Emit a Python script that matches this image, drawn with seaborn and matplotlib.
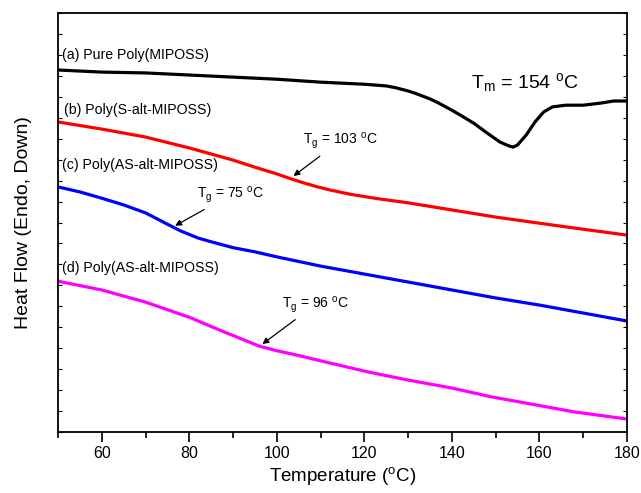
import numpy as np
import pandas as pd
import matplotlib
matplotlib.use('Agg')
import matplotlib.pyplot as plt
from matplotlib.ticker import MultipleLocator
import seaborn as sns

# curve data (heat flow in arbitrary units)
tempA = [50, 60, 70, 80, 90, 100, 110, 120, 125, 127, 130, 132, 135, 137, 140, 142, 145, 148, 151, 153, 154, 155, 157, 159, 161, 163, 166, 170, 174, 177, 180]
flowA = [8.64, 8.59, 8.57, 8.52, 8.47, 8.42, 8.35, 8.30, 8.26, 8.22, 8.14, 8.07, 7.95, 7.85, 7.68, 7.56, 7.37, 7.14, 6.92, 6.83, 6.80, 6.85, 7.09, 7.40, 7.64, 7.76, 7.80, 7.80, 7.85, 7.90, 7.90]

tempB = [50, 60, 70, 80, 90, 95, 100, 103, 106, 109, 112, 117, 123, 130, 140, 150, 163, 170, 180]
flowB = [7.40, 7.23, 7.04, 6.78, 6.49, 6.32, 6.16, 6.05, 5.95, 5.86, 5.78, 5.67, 5.57, 5.47, 5.30, 5.13, 4.94, 4.84, 4.70]

tempC = [50, 55, 60, 65, 70, 75, 78, 82, 85, 90, 95, 100, 110, 120, 130, 140, 150, 160, 170, 180]
flowC = [5.85, 5.73, 5.58, 5.42, 5.23, 4.96, 4.80, 4.63, 4.54, 4.40, 4.30, 4.18, 3.96, 3.77, 3.58, 3.39, 3.20, 3.03, 2.84, 2.65]

tempD = [50, 60, 70, 80, 87, 96, 100, 104, 112, 121, 130, 140, 149, 158, 168, 180]
flowD = [3.60, 3.39, 3.10, 2.74, 2.43, 2.05, 1.94, 1.85, 1.65, 1.43, 1.24, 1.05, 0.84, 0.67, 0.48, 0.31]

sampleNames = ['(a) Pure Poly(MIPOSS)', '(b) Poly(S-alt-MIPOSS)',
               '(c) Poly(AS-alt-MIPOSS)', '(d) Poly(AS-alt-MIPOSS) ']
lineColors = ['black', '#ff0000', '#0000ff', '#ff00ff']
xTicks = [60, 80, 100, 120, 140, 160, 180]

frames = []
for name, t, f in zip(sampleNames, [tempA, tempB, tempC, tempD], [flowA, flowB, flowC, flowD]):
    frames.append(pd.DataFrame({'Temperature': t, 'HeatFlow': f, 'Sample': name}))
df = pd.concat(frames, ignore_index=True)

sns.set_style('ticks', {'axes.edgecolor': 'black', 'text.color': 'black',
                        'axes.labelcolor': 'black', 'xtick.color': 'black',
                        'ytick.color': 'black'})
plt.rcParams['font.family'] = ['Liberation Sans', 'DejaVu Sans']
plt.rcParams['mathtext.fontset'] = 'custom'
plt.rcParams['mathtext.rm'] = 'Liberation Sans'
plt.rcParams['mathtext.it'] = 'Liberation Sans:italic'

fig = plt.figure(figsize=(6.41, 4.93), dpi=100)
ax = fig.add_axes([0.0905, 0.1237, 0.8875, 0.8499])

sns.lineplot(data=df, x='Temperature', y='HeatFlow', hue='Sample',
             palette=dict(zip(sampleNames, lineColors)), linewidth=2.3,
             legend=False, ax=ax, sort=False)

ax.set_xlim(50, 180)
ax.set_ylim(0, 10)
ax.set_xticks(xTicks)
ax.xaxis.set_minor_locator(MultipleLocator(10))
ax.yaxis.set_major_locator(MultipleLocator(1))
ax.yaxis.set_minor_locator(MultipleLocator(0.5))
ax.set_yticklabels([])
ax.tick_params(axis='x', which='major', direction='out', length=7, width=1.2, labelsize=11.5, pad=3)
ax.tick_params(axis='x', which='minor', direction='out', length=4, width=1.2)
ax.tick_params(axis='y', which='both', direction='in', length=3, width=0.8, left=True, right=True)
for sp in ax.spines.values():
    sp.set_linewidth(1.3)
    sp.set_visible(True)

ax.set_xlabel(r'Temperature ($^{\rm o}$C)', fontsize=13.5, labelpad=3)
ax.set_ylabel('Heat Flow (Endo, Down)', fontsize=14, labelpad=15)

# curve labels
ax.text(50.9, 8.99, sampleNames[0], fontsize=10.2, va='center')
ax.text(51.3, 7.68, sampleNames[1], fontsize=10.2, va='center')
ax.text(51.0, 6.37, sampleNames[2], fontsize=10.2, va='center')
ax.text(50.9, 3.91, sampleNames[3].strip(), fontsize=10.2, va='center')

ax.text(144.4, 8.33, r'T$_{\rm m}$ = 154 $^{\rm o}$C', fontsize=14, va='center')

arrowStyle = dict(arrowstyle='-|>', color='black', lw=0.9, mutation_scale=9)
ax.annotate(r'T$_{\rm g}$ = 103 $^{\rm o}$C', xy=(103.3, 6.07), xytext=(105.9, 6.7),
            fontsize=10, ha='left', va='bottom', arrowprops=arrowStyle)
ax.annotate(r'T$_{\rm g}$ = 75 $^{\rm o}$C', xy=(76.2, 4.89), xytext=(81.8, 5.42),
            fontsize=10, ha='left', va='bottom', arrowprops=arrowStyle)
ax.annotate(r'T$_{\rm g}$ = 96 $^{\rm o}$C', xy=(96.2, 2.06), xytext=(101.2, 2.80),
            fontsize=10, ha='left', va='bottom', arrowprops=arrowStyle)

fig.savefig('out.png', dpi=100)
